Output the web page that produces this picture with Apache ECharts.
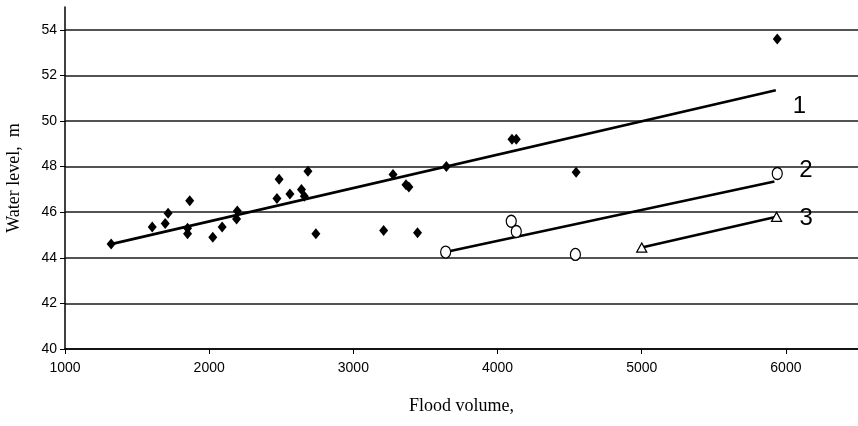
<!DOCTYPE html>
<html>
<head>
<meta charset="utf-8">
<script src="https://cdn.jsdelivr.net/npm/echarts@6/dist/echarts.min.js"></script>
<style>
  html, body { margin: 0; padding: 0; background: #fff; }
  #chart { width: 858px; height: 426px; }
</style>
</head>
<body>
<div id="chart"></div>
<script>
// observed points, group 1 (diamonds)
var diamondVolume = [1320, 1605, 1695, 1715, 1865, 1850, 1850, 2025, 2090, 2190, 2195, 2470, 2485, 2560, 2640, 2660, 2685, 2740, 3210, 3275, 3365, 3385, 3445, 3645, 4100, 4130, 4545, 5940]
var diamondLevel = [44.6, 45.35, 45.5, 45.95, 46.5, 45.05, 45.3, 44.9, 45.35, 45.7, 46.05, 46.6, 47.45, 46.8, 47.0, 46.7, 47.8, 45.05, 45.2, 47.65, 47.2, 47.1, 45.1, 48.0, 49.2, 49.2, 47.75, 53.6]
// group 2 (circles)
var circleVolume = [3640, 4095, 4130, 4540, 5940]
var circleLevel = [44.25, 45.6, 45.15, 44.15, 47.7]
// group 3 (triangles)
var triangleVolume = [5000, 5935]
var triangleLevel = [44.45, 45.8]
// fitted lines 1, 2, 3 (start / end)
var fitVolume = [[1320, 5930], [3640, 5920], [5000, 5935]]
var fitLevel = [[44.6, 51.35], [44.25, 47.35], [44.45, 45.8]]
var fitNames = ['1', '2', '3']
var fitLabelOffset = [[12, 16], [20, -11], [18, 2]]

function pairs (xs, ys) {
  return xs.map(function (x, i) { return [x, ys[i]] })
}

var myChart = echarts.init(document.getElementById('chart'))

var series = [
  {
    type: 'scatter',
    symbol: 'diamond',
    symbolSize: [9, 11],
    itemStyle: { color: '#000', opacity: 1 },
    data: pairs(diamondVolume, diamondLevel),
    z: 3
  },
  {
    type: 'scatter',
    symbol: 'circle',
    symbolSize: [10, 12],
    itemStyle: { color: '#fff', borderColor: '#000', borderWidth: 1.3, opacity: 1 },
    data: pairs(circleVolume, circleLevel),
    z: 4
  },
  {
    type: 'scatter',
    symbol: 'triangle',
    symbolSize: [10, 9],
    itemStyle: { color: '#fff', borderColor: '#000', borderWidth: 1.3, opacity: 1 },
    data: pairs(triangleVolume, triangleLevel),
    z: 4
  }
]

// fitted lines, the number sits next to the right end
fitNames.forEach(function (name, k) {
  series.push({
    type: 'line',
    name: name,
    showSymbol: true,
    symbol: 'circle',
    symbolSize: 0,
    lineStyle: { color: '#000', width: 2.6 },
    itemStyle: { color: '#000' },
    data: pairs(fitVolume[k], fitLevel[k]),
    label: {
      show: true,
      position: 'right',
      offset: fitLabelOffset[k],
      formatter: function (p) { return p.dataIndex === 1 ? name : '' },
      color: '#000',
      fontFamily: 'Liberation Sans',
      fontSize: 24
    },
    z: 2
  })
})

var option = {
  backgroundColor: '#fff',
  animation: false,
  grid: { left: 65, right: 0, top: 7, bottom: 77, outerBoundsMode: 'none' },
  xAxis: {
    type: 'value',
    min: 1000,
    max: 6500,
    interval: 1000,
    name: 'Flood volume,',
    nameLocation: 'middle',
    nameGap: 48,
    nameTextStyle: { fontFamily: 'Liberation Serif', fontSize: 18, color: '#000' },
    axisLine: { lineStyle: { color: '#000', width: 1.5 } },
    axisTick: { show: true, length: 5, lineStyle: { color: '#000' } },
    axisLabel: {
      color: '#000', fontFamily: 'Liberation Sans', fontSize: 14, margin: 12, showMaxLabel: false,
      formatter: function (v) { return String(v) }
    },
    splitLine: { show: false }
  },
  yAxis: {
    type: 'value',
    min: 40,
    max: 55,
    interval: 2,
    name: 'Water level,  m',
    nameLocation: 'middle',
    nameGap: 42,
    nameTextStyle: { fontFamily: 'Liberation Serif', fontSize: 18, color: '#000' },
    axisLine: { show: true, lineStyle: { color: '#000', width: 1.5 } },
    axisTick: { show: true, length: 5, lineStyle: { color: '#000' } },
    axisLabel: { color: '#000', fontFamily: 'Liberation Sans', fontSize: 14, margin: 8, showMaxLabel: false },
    splitLine: { show: true, showMaxLine: false, lineStyle: { color: '#1a1a1a', width: 1.5 } }
  },
  series: series
}
myChart.setOption(option)
</script>
</body>
</html>
